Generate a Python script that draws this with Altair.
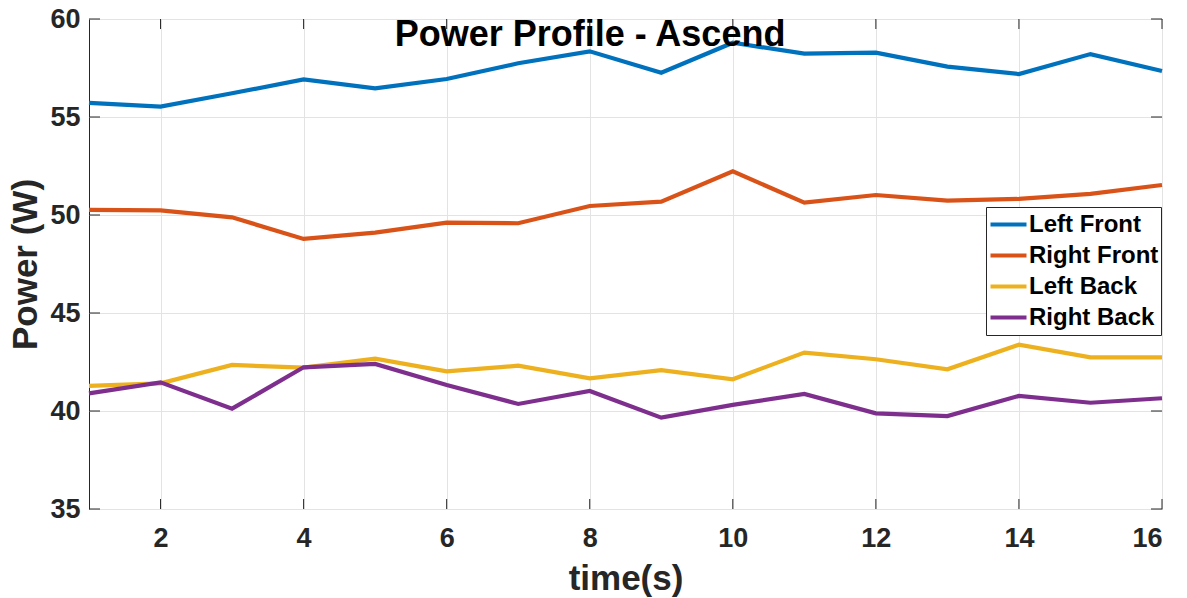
import altair as alt
import pandas as pd

# Sample times (s) and measured power (W) per motor
time_s = list(range(1, 17))
left_front = [55.72, 55.53, 56.21, 56.92, 56.46, 56.94, 57.74, 58.35,
              57.26, 58.79, 58.23, 58.28, 57.57, 57.19, 58.21, 57.35]
right_front = [50.26, 50.24, 49.88, 48.78, 49.10, 49.61, 49.58, 50.46,
               50.68, 52.23, 50.63, 51.02, 50.73, 50.82, 51.08, 51.53]
left_back = [41.28, 41.41, 42.35, 42.21, 42.67, 42.02, 42.31, 41.67,
             42.08, 41.62, 42.98, 42.64, 42.13, 43.38, 42.74, 42.74]
right_back = [40.90, 41.46, 40.12, 42.23, 42.40, 41.33, 40.36, 41.02,
              39.66, 40.31, 40.87, 39.88, 39.74, 40.77, 40.42, 40.65]

series_names = ["Left Front", "Right Front", "Left Back", "Right Back"]
series_colors = ["#0072BD", "#D95319", "#EDB120", "#7E2F8E"]
x_ticks = [2, 4, 6, 8, 10, 12, 14, 16]
y_ticks = [35, 40, 45, 50, 55, 60]
chart_title = "Power Profile - Ascend"

FONT = "Liberation Sans"
INK = "#262626"
W, H = 1073, 490
TICK_LEN = 10

rows = []
for name, vals in zip(series_names, [left_front, right_front, left_back, right_back]):
    for t, v in zip(time_s, vals):
        rows.append({"time": t, "power": v, "series": name})
df = pd.DataFrame(rows)

x_scale = alt.Scale(domain=[1, 16], nice=False, zero=False)
y_scale = alt.Scale(domain=[35, 60], nice=False, zero=False)

# The same axis definitions are shared by every layer so they merge cleanly
x_axis = alt.Axis(values=x_ticks, title="time(s)", labelPadding=16,
                  titlePadding=10, grid=True)
y_axis = alt.Axis(values=y_ticks, title="Power (W)", labelPadding=9,
                  titlePadding=6, grid=True)

lines = alt.Chart(df).mark_line(strokeWidth=4.2).encode(
    x=alt.X("time:Q", scale=x_scale, axis=x_axis),
    y=alt.Y("power:Q", scale=y_scale, axis=y_axis),
    color=alt.Color(
        "series:N",
        scale=alt.Scale(domain=series_names, range=series_colors),
        legend=alt.Legend(
            title=None, orient="none", legendX=897, legendY=188,
            direction="vertical", fillColor="white", strokeColor=INK,
            padding=2, symbolType="stroke", symbolStrokeWidth=4.2,
            symbolSize=1296, labelFontSize=24, labelFont=FONT,
            labelFontWeight="bold", labelColor="black", rowPadding=0,
            clipHeight=31, labelOffset=0, cornerRadius=0,
        ),
    ),
)

# Inward-pointing tick marks on all four sides of the box
xt = pd.DataFrame({"t": x_ticks})
yt = pd.DataFrame({"t": y_ticks})
tick_style = dict(color=INK, strokeWidth=1)
bottom_ticks = alt.Chart(xt).mark_rule(**tick_style).encode(
    x=alt.X("t:Q", scale=x_scale, axis=x_axis),
    y=alt.value(H), y2=alt.value(H - TICK_LEN))
top_ticks = alt.Chart(xt).mark_rule(**tick_style).encode(
    x=alt.X("t:Q", scale=x_scale, axis=x_axis),
    y=alt.value(0), y2=alt.value(TICK_LEN))
left_ticks = alt.Chart(yt).mark_rule(**tick_style).encode(
    y=alt.Y("t:Q", scale=y_scale, axis=y_axis),
    x=alt.value(0), x2=alt.value(TICK_LEN + 1))
right_ticks = alt.Chart(yt).mark_rule(**tick_style).encode(
    y=alt.Y("t:Q", scale=y_scale, axis=y_axis),
    x=alt.value(W), x2=alt.value(W - TICK_LEN - 1))

title = alt.Chart(pd.DataFrame({"label": [chart_title]})).mark_text(
    font=FONT, fontSize=36, fontWeight="bold", color="black",
    align="center", baseline="alphabetic",
).encode(text="label:N", x=alt.value(501), y=alt.value(27))

chart = alt.layer(
    lines, bottom_ticks, top_ticks, left_ticks, right_ticks, title
).properties(
    width=W, height=H,
    padding={"left": 89, "top": 19, "right": 25, "bottom": 89},
    autosize=alt.AutoSizeParams(type="none"),
    background="white",
).configure_view(
    stroke=INK, strokeWidth=1,
).configure_axis(
    domain=False, ticks=False,
    gridColor="#e3e3e3", gridWidth=1,
    labelFont=FONT, labelFontSize=27, labelFontWeight="bold", labelColor=INK,
    titleFont=FONT, titleFontSize=35, titleFontWeight="bold", titleColor=INK,
)

chart.save("out.html", embed_options={"renderer": "svg", "actions": False})
